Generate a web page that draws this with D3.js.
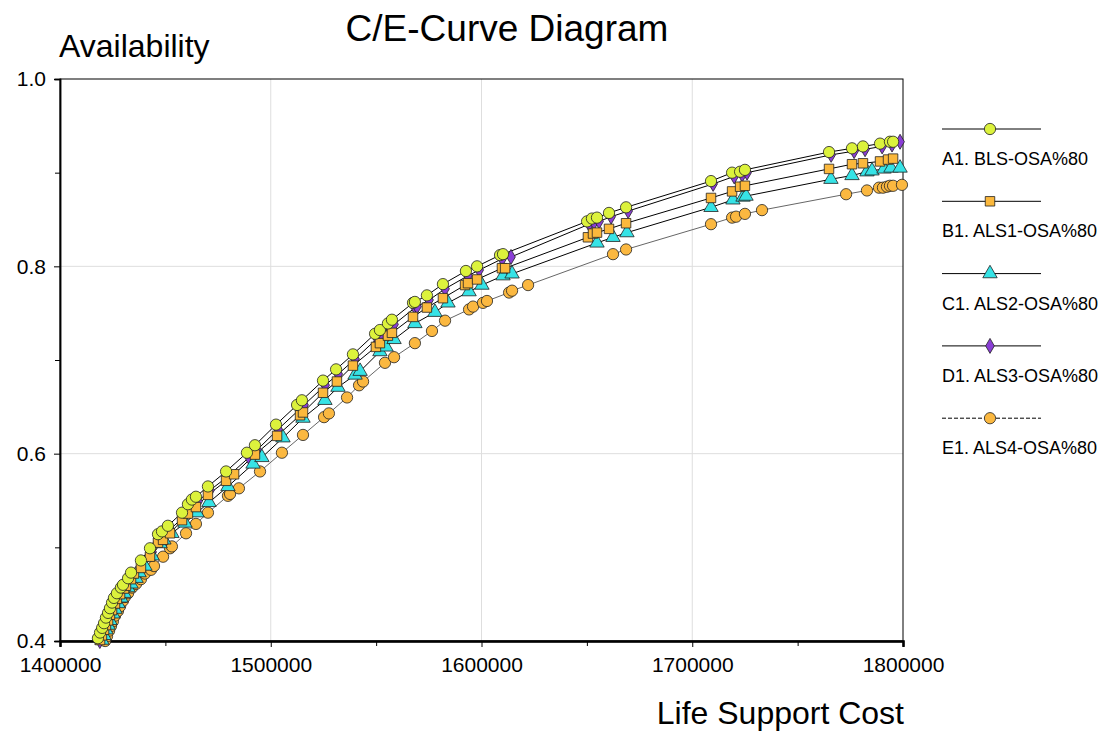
<!DOCTYPE html>
<html>
<head>
<meta charset="utf-8">
<script src="https://cdn.jsdelivr.net/npm/d3@7/dist/d3.min.js"></script>
<style>
body { margin: 0; background: #fff; }
text { font-family: "Liberation Sans", Arial, sans-serif; fill: #000; }
</style>
</head>
<body>
<svg id="chart" width="1111" height="731"></svg>
<script>
// [cost, availability] pairs
const seriesA = [[1418000,0.403],[1419000,0.409],[1420000,0.414],[1420900,0.419],[1421800,0.425],[1422800,0.430],[1423700,0.435],[1424700,0.441],[1425600,0.446],[1427000,0.451],[1428900,0.457],[1429900,0.460],[1432300,0.467],[1433700,0.473],[1438400,0.486],[1442700,0.499],[1446500,0.514],[1448400,0.517],[1451200,0.523],[1457900,0.537],[1460700,0.546],[1462600,0.551],[1464500,0.554],[1470200,0.565],[1478800,0.581],[1488700,0.601],[1492500,0.609],[1502500,0.631],[1512500,0.652],[1514800,0.657],[1524800,0.678],[1531000,0.690],[1539000,0.706],[1549500,0.728],[1551800,0.732],[1555600,0.739],[1557500,0.743],[1567500,0.761],[1568400,0.762],[1574100,0.769],[1581700,0.781],[1592600,0.795],[1597900,0.800],[1608800,0.812],[1610200,0.813],[1650100,0.848],[1652400,0.851],[1654800,0.852],[1660500,0.857],[1668600,0.863],[1708900,0.891],[1718900,0.900],[1722700,0.901],[1725000,0.903],[1764900,0.922],[1775800,0.926],[1781000,0.928],[1789100,0.931],[1793800,0.933],[1795300,0.933]];

const seriesB = [[1419000,0.401],[1419900,0.406],[1420900,0.412],[1421800,0.417],[1422800,0.422],[1423700,0.428],[1424700,0.433],[1426100,0.440],[1427000,0.445],[1428500,0.450],[1430400,0.456],[1431300,0.459],[1433700,0.466],[1435100,0.472],[1438400,0.478],[1442700,0.490],[1446500,0.505],[1448900,0.508],[1452200,0.515],[1457900,0.529],[1460700,0.536],[1464500,0.543],[1470200,0.556],[1478800,0.571],[1482600,0.578],[1492500,0.599],[1503000,0.619],[1513900,0.641],[1515300,0.644],[1524800,0.665],[1531400,0.677],[1539000,0.694],[1549900,0.714],[1551800,0.718],[1555600,0.726],[1557500,0.729],[1567500,0.746],[1574100,0.756],[1581700,0.766],[1592200,0.780],[1593600,0.782],[1597900,0.786],[1609700,0.798],[1611200,0.798],[1650500,0.831],[1652900,0.835],[1654800,0.836],[1660500,0.840],[1668600,0.846],[1708900,0.873],[1718900,0.880],[1722700,0.885],[1725000,0.886],[1764900,0.904],[1775800,0.909],[1781000,0.910],[1789100,0.912],[1792900,0.914],[1795300,0.915]];

const seriesC = [[1419900,0.401],[1420900,0.406],[1421800,0.412],[1422800,0.417],[1423700,0.422],[1425100,0.429],[1426100,0.434],[1427500,0.440],[1428900,0.446],[1430400,0.451],[1432300,0.457],[1433700,0.461],[1436100,0.467],[1437500,0.473],[1440300,0.480],[1443700,0.491],[1447500,0.504],[1449300,0.508],[1453100,0.515],[1459300,0.526],[1465000,0.537],[1470700,0.548],[1479700,0.565],[1491600,0.589],[1495800,0.596],[1505800,0.617],[1515300,0.638],[1525700,0.657],[1531900,0.671],[1540000,0.684],[1542400,0.688],[1551800,0.709],[1554700,0.714],[1558500,0.722],[1568400,0.739],[1577900,0.751],[1584100,0.761],[1594100,0.773],[1600200,0.780],[1610200,0.790],[1614500,0.792],[1654800,0.825],[1662400,0.831],[1669000,0.836],[1708900,0.863],[1719300,0.871],[1724100,0.874],[1725500,0.875],[1765800,0.893],[1775800,0.897],[1782900,0.901],[1785300,0.902],[1791000,0.904],[1794300,0.905],[1798600,0.905]];

const seriesD = [[1418900,0.400],[1420000,0.405],[1421000,0.410],[1421900,0.415],[1422800,0.421],[1423800,0.426],[1424700,0.431],[1425700,0.437],[1426600,0.442],[1428000,0.447],[1429900,0.453],[1430900,0.456],[1433300,0.463],[1434700,0.469],[1439400,0.482],[1443700,0.495],[1447500,0.509],[1449400,0.513],[1452200,0.519],[1458900,0.533],[1461700,0.541],[1463600,0.546],[1465500,0.549],[1471200,0.561],[1479800,0.576],[1489700,0.596],[1493500,0.604],[1503500,0.626],[1513500,0.647],[1515800,0.652],[1525800,0.673],[1532000,0.685],[1540000,0.701],[1550500,0.723],[1552800,0.727],[1556600,0.734],[1558500,0.738],[1568500,0.756],[1569400,0.757],[1575100,0.764],[1582700,0.776],[1593600,0.790],[1598900,0.796],[1609800,0.808],[1614000,0.810],[1651100,0.845],[1653400,0.847],[1655800,0.848],[1661500,0.853],[1669600,0.859],[1709900,0.888],[1719900,0.896],[1723700,0.898],[1726000,0.900],[1765900,0.919],[1776800,0.923],[1782000,0.925],[1790100,0.928],[1794800,0.930],[1798600,0.933]];

const seriesE = [[1421400,0.400],[1422300,0.405],[1423300,0.411],[1424200,0.416],[1425100,0.421],[1426100,0.427],[1427500,0.432],[1428500,0.437],[1429900,0.443],[1430800,0.447],[1432300,0.451],[1434200,0.457],[1436100,0.461],[1438400,0.466],[1440300,0.472],[1443200,0.476],[1444600,0.480],[1448900,0.490],[1452200,0.499],[1453100,0.501],[1459800,0.515],[1464500,0.525],[1470200,0.537],[1479700,0.555],[1480700,0.557],[1484900,0.563],[1494900,0.581],[1505300,0.601],[1515300,0.620],[1525300,0.639],[1527600,0.643],[1536200,0.660],[1541900,0.673],[1543800,0.677],[1554200,0.697],[1558500,0.703],[1568400,0.718],[1576500,0.731],[1582700,0.742],[1594100,0.754],[1596000,0.757],[1600700,0.761],[1602600,0.763],[1613100,0.772],[1614500,0.774],[1622100,0.780],[1662400,0.813],[1668600,0.818],[1708900,0.845],[1718900,0.852],[1720800,0.853],[1725000,0.856],[1733100,0.860],[1773000,0.877],[1782900,0.881],[1788600,0.884],[1790500,0.884],[1792400,0.885],[1793800,0.886],[1795300,0.886],[1799500,0.887]];

const seriesNames = ["A1. BLS-OSA%80", "B1. ALS1-OSA%80", "C1. ALS2-OSA%80", "D1. ALS3-OSA%80", "E1. ALS4-OSA%80"];
const xMajorTicks = [1400000, 1500000, 1600000, 1700000, 1800000];
const xMinorTicks = [1450000, 1550000, 1650000, 1750000];
const yMajorTicks = [0.4, 0.6, 0.8, 1.0];
const yMinorTicks = [0.5, 0.7, 0.9];

const series = [
	{name: seriesNames[0], data: seriesA, symbol: d3.symbolCircle, size: 100, fill: "#dcf23c", line: "#000", dash: false},
	{name: seriesNames[1], data: seriesB, symbol: d3.symbolSquare, size: 90, fill: "#fbb83c", line: "#000", dash: false},
	{name: seriesNames[2], data: seriesC, symbol: d3.symbolTriangle, size: 90, fill: "#36e3e6", line: "#000", dash: false},
	{name: seriesNames[3], data: seriesD, symbol: d3.symbolDiamond, size: 65, fill: "#8a3ed6", line: "#000", dash: false},
	{name: seriesNames[4], data: seriesE, symbol: d3.symbolCircle, size: 100, fill: "#fbb840", line: "#666", dash: true}
];

const svg = d3.select("#chart");
const plotLeft = 60, plotRight = 903, plotTop = 79, plotBottom = 641;

const x = d3.scaleLinear().domain([1400000, 1800000]).range([plotLeft, plotRight]);
const y = d3.scaleLinear().domain([0.4, 1.0]).range([plotBottom, plotTop]);

// grid
svg.append("g")
   .selectAll("line")
   .data(xMajorTicks.slice(1, -1))
   .enter().append("line")
   .attr("x1", d=>x(d)).attr("x2", d=>x(d))
   .attr("y1", plotTop).attr("y2", plotBottom)
   .style("stroke", "#dedede").style("stroke-width", 1);
svg.append("g")
   .selectAll("line")
   .data(yMajorTicks.slice(1, -1))
   .enter().append("line")
   .attr("x1", plotLeft).attr("x2", plotRight)
   .attr("y1", d=>y(d)).attr("y2", d=>y(d))
   .style("stroke", "#dedede").style("stroke-width", 1);

// frame
svg.append("rect")
   .attr("x", plotLeft).attr("y", plotTop)
   .attr("width", plotRight - plotLeft).attr("height", plotBottom - plotTop)
   .style("fill", "none").style("stroke", "#000").style("stroke-width", 1);

// axes
let xMinor = svg.append("g").attr("transform", `translate(0,${plotBottom})`)
	.call(d3.axisBottom(x).tickValues(xMinorTicks).tickSize(5).tickFormat(""));
let xAxis = svg.append("g").attr("transform", `translate(0,${plotBottom})`)
	.call(d3.axisBottom(x).tickValues(xMajorTicks).tickSize(6).tickPadding(10).tickFormat(d3.format("d")));
let yMinor = svg.append("g").attr("transform", `translate(${plotLeft},0)`)
	.call(d3.axisLeft(y).tickValues(yMinorTicks).tickSize(5).tickFormat(""));
let yAxis = svg.append("g").attr("transform", `translate(${plotLeft},0)`)
	.call(d3.axisLeft(y).tickValues(yMajorTicks).tickSize(6).tickPadding(8).tickFormat(d3.format(".1f")));

[xMinor, xAxis, yMinor, yAxis].forEach(g=>{
	g.select(".domain").style("stroke", "#000").style("stroke-width", 1.5);
	g.selectAll(".tick line").style("stroke", "#000");
	g.selectAll("text").style("font-family", "Liberation Sans, Arial, sans-serif").style("font-size", "21px").style("fill", "#000");
});
xAxis.select(".domain").style("stroke-width", 2.5);

// lines (E shows as a thin grey line inside the plot)
const line = d3.line().x(d=>x(d[0])).y(d=>y(d[1]));
svg.append("g")
   .selectAll("path")
   .data(series)
   .enter().append("path")
   .attr("d", d=>line(d.data))
   .style("fill", "none")
   .style("stroke", d=>d.line)
   .style("stroke-width", 1);

// markers, A drawn last so it sits on top
svg.append("g")
   .selectAll("g")
   .data(series.slice().reverse())
   .enter().append("g")
   .each(function(s){
	   d3.select(this).selectAll("path")
		 .data(s.data)
		 .enter().append("path")
		 .attr("transform", d=>`translate(${x(d[0])},${y(d[1])})`)
		 .attr("d", d3.symbol().type(s.symbol).size(s.size))
		 .style("fill", s.fill)
		 .style("stroke", "#222")
		 .style("stroke-width", 0.8);
   });

// legend
let legend = svg.append("g")
	.selectAll("g")
	.data(series)
	.enter().append("g")
	.attr("transform", (d,i)=>`translate(942,${129 + i * 72.3})`);
legend.append("line")
	.attr("x1", 0).attr("x2", 99).attr("y1", 0).attr("y2", 0)
	.style("stroke", "#000").style("stroke-width", 1)
	.style("stroke-dasharray", d=>d.dash ? "4,2" : null);
legend.append("path")
	.attr("transform", "translate(48,0)")
	.attr("d", d=>d3.symbol().type(d.symbol).size(d.size)())
	.style("fill", d=>d.fill).style("stroke", "#222").style("stroke-width", 0.8);
legend.append("text")
	.attr("x", 0).attr("y", 36)
	.style("font-size", "18px")
	.text(d=>d.name);

// titles
svg.append("text")
   .attr("x", 507).attr("y", 41)
   .attr("text-anchor", "middle")
   .style("font-size", "37px")
   .text("C/E-Curve Diagram");
svg.append("text")
   .attr("x", 59).attr("y", 57)
   .style("font-size", "32px")
   .text("Availability");
svg.append("text")
   .attr("x", 904).attr("y", 724)
   .attr("text-anchor", "end")
   .style("font-size", "32px")
   .text("Life Support Cost");
</script>
</body>
</html>
